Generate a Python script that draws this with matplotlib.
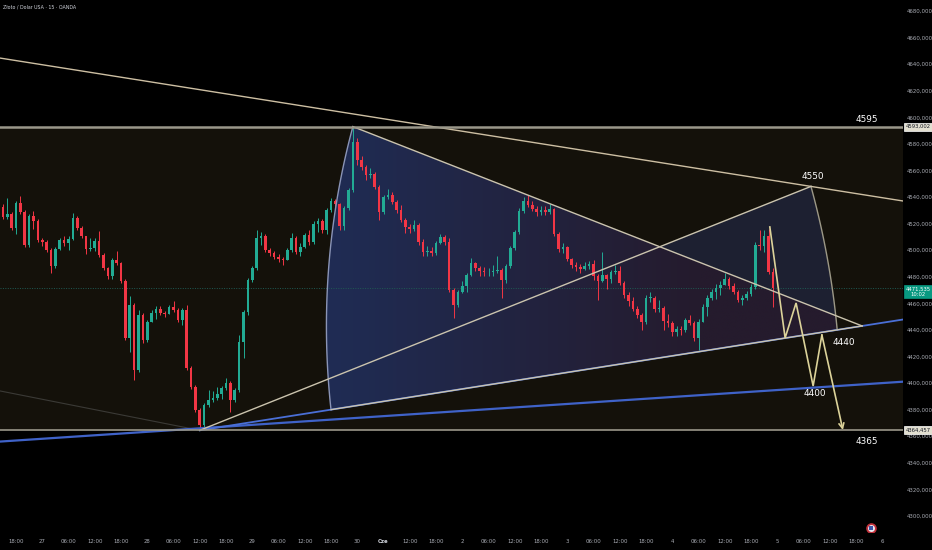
import numpy as np
import matplotlib
matplotlib.use('Agg')
import matplotlib.pyplot as plt
from matplotlib.patches import Polygon
from matplotlib import font_manager as fm

# ---------------- data (hourly candles, x = hours since 26 May 18:00) ----------------
first_open = 4532.5
closes = [
4525.0, 4527.3, 4516.7, 4535.5, 4528.8, 4503.9, 4525.8, 4522.0, 4507.7, 4506.2,
4500.2, 4488.1, 4500.9, 4507.7, 4505.4, 4508.4, 4524.2, 4516.7, 4510.7, 4500.9,
4501.7, 4506.9, 4496.4, 4486.6, 4480.6, 4492.6, 4490.4, 4476.8, 4434.0, 4458.8,
4409.9, 4451.3, 4432.5, 4446.0, 4452.8, 4455.8, 4452.8, 4452.0, 4457.3, 4455.0,
4447.5, 4455.0, 4411.4, 4397.1, 4379.8, 4368.5, 4383.5, 4387.3, 4388.8, 4391.8,
4396.3, 4400.1, 4387.3, 4394.8, 4430.9, 4453.5, 4477.6, 4486.6, 4509.2, 4510.7,
4500.2, 4497.9, 4494.9, 4493.4, 4492.6, 4500.2, 4509.2, 4498.7, 4502.4, 4511.5,
4506.2, 4519.7, 4522.0, 4515.2, 4530.3, 4537.1, 4534.8, 4518.2, 4531.8, 4545.3,
4581.4, 4567.9, 4562.6, 4556.6, 4557.4, 4547.6, 4528.8, 4540.1, 4541.6, 4536.3,
4530.3, 4522.7, 4517.5, 4516.0, 4519.0, 4506.2, 4498.7, 4499.4, 4497.9, 4505.4,
4509.9, 4506.2, 4470.1, 4458.8, 4468.6, 4473.1, 4481.4, 4490.4, 4486.6, 4484.4,
4483.6, 4483.6, 4484.4, 4485.1, 4477.6, 4488.1, 4501.7, 4513.7, 4529.5, 4537.1,
4534.0, 4531.0, 4528.8, 4530.3, 4528.8, 4531.0, 4512.2, 4500.9, 4502.4, 4493.4,
4488.9, 4487.4, 4485.9, 4488.1, 4489.6, 4480.6, 4476.8, 4481.4, 4478.4, 4483.6,
4484.4, 4475.3, 4466.3, 4461.8, 4455.8, 4451.3, 4446.0, 4464.1, 4464.1, 4455.8,
4456.5, 4446.7, 4445.2, 4438.5, 4440.7, 4440.0, 4447.5, 4445.2, 4434.0, 4446.0,
4457.3, 4464.1, 4468.6, 4471.6, 4473.8, 4478.4, 4473.1, 4468.6, 4462.5, 4464.1,
4467.1, 4472.3, 4503.9, 4503.2, 4510.7, 4483.6, 4471.535]
highs = [
4534.8, 4539.3, 4528.8, 4537.1, 4540.8, 4530.3, 4527.3, 4529.5, 4523.5, 4509.2,
4507.7, 4501.7, 4502.4, 4509.2, 4510.7, 4510.7, 4528.0, 4525.8, 4518.2, 4510.7,
4509.2, 4509.2, 4514.5, 4497.9, 4487.4, 4494.1, 4499.4, 4491.1, 4478.4, 4465.6,
4460.3, 4455.0, 4452.8, 4447.5, 4455.0, 4458.0, 4458.0, 4454.3, 4458.8, 4461.8,
4456.5, 4456.5, 4458.8, 4412.9, 4398.6, 4381.3, 4385.0, 4394.8, 4394.1, 4397.1,
4397.8, 4403.9, 4401.6, 4396.3, 4436.2, 4455.0, 4479.1, 4488.1, 4515.2, 4513.7,
4512.2, 4501.7, 4499.4, 4497.2, 4494.9, 4501.7, 4513.0, 4510.7, 4505.4, 4513.0,
4515.2, 4522.0, 4524.2, 4523.5, 4531.8, 4539.3, 4538.6, 4535.5, 4533.3, 4546.8,
4593.0, 4584.5, 4570.9, 4564.1, 4561.9, 4558.9, 4549.1, 4541.6, 4546.1, 4543.8,
4537.8, 4534.0, 4524.2, 4519.7, 4522.7, 4520.5, 4508.4, 4503.2, 4502.4, 4506.9,
4512.2, 4511.5, 4509.2, 4471.6, 4470.1, 4476.8, 4482.9, 4494.1, 4491.1, 4488.1,
4487.4, 4486.6, 4488.9, 4495.7, 4486.6, 4489.6, 4503.2, 4515.2, 4531.8, 4540.1,
4541.6, 4537.1, 4533.3, 4533.3, 4533.3, 4534.8, 4531.8, 4513.7, 4505.4, 4503.2,
4494.1, 4491.1, 4489.6, 4491.1, 4491.9, 4492.6, 4482.1, 4498.7, 4482.1, 4485.1,
4488.9, 4488.1, 4476.8, 4468.6, 4464.8, 4458.0, 4452.8, 4466.3, 4468.6, 4465.6,
4462.5, 4458.0, 4452.0, 4446.7, 4443.0, 4443.0, 4449.0, 4451.3, 4446.7, 4448.2,
4459.5, 4466.3, 4470.8, 4474.6, 4476.8, 4482.9, 4479.9, 4475.3, 4470.1, 4466.3,
4469.3, 4474.6, 4506.2, 4515.2, 4515.2, 4516.0, 4486.6]
lows = [
4523.5, 4523.5, 4515.2, 4512.2, 4527.3, 4502.4, 4502.4, 4516.0, 4506.2, 4503.2,
4498.7, 4482.9, 4486.6, 4500.2, 4503.2, 4500.2, 4507.7, 4515.2, 4509.2, 4497.2,
4499.4, 4499.4, 4494.9, 4485.1, 4478.4, 4478.4, 4488.9, 4475.3, 4432.5, 4423.4,
4402.3, 4408.4, 4430.2, 4430.9, 4446.0, 4448.2, 4451.3, 4449.8, 4452.0, 4453.5,
4446.0, 4443.7, 4409.9, 4395.6, 4378.3, 4364.457, 4367.0, 4382.0, 4385.8, 4387.3,
4388.1, 4394.8, 4378.3, 4385.8, 4393.3, 4418.9, 4451.3, 4476.1, 4485.1, 4503.9,
4498.7, 4495.7, 4493.4, 4491.1, 4488.9, 4492.6, 4498.7, 4497.2, 4495.7, 4501.7,
4503.9, 4504.7, 4513.7, 4513.0, 4512.2, 4528.8, 4532.5, 4515.2, 4515.2, 4530.3,
4543.8, 4564.1, 4560.4, 4552.8, 4554.4, 4546.1, 4522.7, 4527.3, 4538.6, 4534.8,
4528.0, 4521.2, 4513.0, 4513.0, 4514.5, 4503.9, 4495.7, 4495.7, 4495.7, 4496.4,
4504.7, 4503.9, 4468.6, 4449.0, 4457.3, 4467.8, 4468.6, 4480.6, 4484.4, 4480.6,
4480.6, 4480.6, 4480.6, 4482.9, 4464.1, 4475.3, 4486.6, 4500.2, 4512.2, 4528.0,
4532.5, 4529.5, 4525.8, 4526.5, 4526.5, 4527.3, 4510.7, 4498.7, 4497.9, 4491.9,
4486.6, 4484.4, 4482.9, 4485.1, 4485.9, 4477.6, 4462.5, 4476.1, 4470.8, 4475.3,
4482.1, 4473.8, 4464.1, 4458.0, 4454.3, 4449.0, 4440.0, 4444.5, 4461.0, 4453.5,
4453.5, 4440.0, 4442.2, 4435.5, 4435.5, 4436.2, 4438.5, 4443.7, 4431.7, 4424.9,
4446.0, 4450.5, 4462.5, 4463.3, 4466.3, 4475.3, 4470.8, 4467.1, 4461.0, 4458.8,
4462.5, 4465.6, 4470.8, 4500.2, 4498.7, 4482.1, 4457.3]
first_hour = -3

tick_labels = ["18:00", "27", "06:00", "12:00", "18:00", "28", "06:00", "12:00", "18:00",
               "29", "06:00", "12:00", "18:00", "30", "Cze", "12:00", "18:00", "2",
               "06:00", "12:00", "18:00", "3", "06:00", "12:00", "18:00", "4",
               "06:00", "12:00", "18:00", "5", "06:00", "12:00", "18:00", "6"]
tick_step_hours = 6
price_ticks = list(range(4300, 4681, 20))

# drawing anchors (hour, price)
box_top, box_bottom = 4593.002, 4364.457
last_price = 4471.535
peak = (77, 4593.002)
low = (42, 4364.457)
apex = (193.4, 4443.0)
pt4550 = (181.7, 4548.0)
long_line_start = (-3.66, 4644.6)
blue_a, blue_b = (-3.66, 4356.0), (202.5, 4401.0)
faint_start = (-3.66, 4394.1)
left_arc_mid = (71.1, 4466.3)
left_arc_end_h = 72.0
right_arc_mid = (186.1, 4481.4)
right_arc_end_h = 187.7
zigzag_h = [172.3, 175.8, 178.3, 182.2, 184.2, 189.0]
zigzag_p = [4517.5, 4434.0, 4460.3, 4397.8, 4436.2, 4364.7]
level_texts = [("4595", 194.5, 4598.7), ("4550", 182.2, 4555.1), ("4440", 189.3, 4430.2),
               ("4400", 182.6, 4391.8), ("4365", 194.5, 4356.4)]
title = "Złoto / Dolar USA · 15 · OANDA"

# ---------------- fonts ----------------
names = {f.name for f in fm.fontManager.ttflist}
if 'Liberation Sans Narrow' in names:
    fam, k = 'Liberation Sans Narrow', 1.0
else:
    fam, k = 'DejaVu Sans', 0.78
plt.rcParams['font.family'] = [fam, 'DejaVu Sans']

BG = '#000000'
BOXBG = '#14110a'
UP, DOWN = '#22ab94', '#f23645'
BEIGE = '#cbc4ae'
AXTXT = '#a9acb4'

fig = plt.figure(figsize=(9.32, 5.5), dpi=100, facecolor=BG)
ax = fig.add_axes([0, 18 / 550, 903 / 932, 532 / 550])
ax.set_facecolor(BG)
for s in ax.spines.values():
    s.set_visible(False)
ax.set_xlim(-3.657, 202.74)
ax.set_ylim(4287.95, 4688.28)

# rectangle zone
ax.axhspan(box_bottom, box_top, color=BOXBG, zorder=0, lw=0)
ax.axhline(box_top, color='#9a978a', lw=1.8, zorder=5)
ax.axhline(box_bottom, color='#9a978a', lw=1.2, zorder=5)

# helpers in display space
def D(p):
    return ax.transData.transform(np.atleast_2d(p))
def Dinv(p):
    return ax.transData.inverted().transform(np.atleast_2d(p))

def line_at(p0, p1, h):
    return p0[1] + (p1[1] - p0[1]) / (p1[0] - p0[0]) * (h - p0[0])

def intersect(a0, a1, b0, b1):
    a0, a1, b0, b1 = map(np.asarray, (a0, a1, b0, b1))
    da, db = a1 - a0, b1 - b0
    t = np.cross(b0 - a0, db) / np.cross(da, db)
    return a0 + t * da

def arc_through(p0, pm, p1, n=90):
    (x1, y1), (x2, y2), (x3, y3) = p0, pm, p1
    d = 2 * (x1 * (y2 - y3) + x2 * (y3 - y1) + x3 * (y1 - y2))
    ux = ((x1**2 + y1**2) * (y2 - y3) + (x2**2 + y2**2) * (y3 - y1) + (x3**2 + y3**2) * (y1 - y2)) / d
    uy = ((x1**2 + y1**2) * (x3 - x2) + (x2**2 + y2**2) * (x1 - x3) + (x3**2 + y3**2) * (x2 - x1)) / d
    r = np.hypot(x1 - ux, y1 - uy)
    a0 = np.arctan2(y1 - uy, x1 - ux)
    am = np.arctan2(y2 - uy, x2 - ux)
    a1 = np.arctan2(y3 - uy, x3 - ux)
    dm = (am - a0) % (2 * np.pi)
    d1 = (a1 - a0) % (2 * np.pi)
    if dm <= d1:
        ang = a0 + np.linspace(0, d1, n)
    else:
        ang = a0 - np.linspace(0, 2 * np.pi - d1, n)
    return np.column_stack([ux + r * np.cos(ang), uy + r * np.sin(ang)])

left_end = (left_arc_end_h, line_at(low, apex, left_arc_end_h))
right_end = (right_arc_end_h, line_at(low, apex, right_arc_end_h))
cross = intersect(peak, apex, low, pt4550)

larc = arc_through(D(left_end)[0], D(left_arc_mid)[0], D(peak)[0])
rarc = arc_through(D(pt4550)[0], D(right_arc_mid)[0], D(right_end)[0])

region_disp = np.vstack([D(peak), D(cross), D(pt4550), rarc, D(right_end), D(left_end), larc])
region = Polygon(Dinv(region_disp), closed=True, transform=ax.transData,
                 fill=False, edgecolor='none')
ax.add_patch(region)

# horizontal gradient fill
g_h = np.linspace(68, 195, 300)
c0 = np.array([31, 44, 84]) / 255.0
c1 = np.array([37, 27, 45]) / 255.0
t = np.clip((g_h - 71.8) / (156 - 71.8), 0, 1)[:, None]
cols = c0 * (1 - t) + c1 * t
img = np.repeat(cols[None, :, :], 2, axis=0)
im = ax.imshow(img, extent=(68, 195, 4360, 4600), aspect='auto', origin='lower',
               zorder=1, interpolation='bilinear')
im.set_clip_path(region)

# overlay above the descending line
dp0, dp1 = D(peak)[0], D(apex)[0]
def above_desc(pt):
    yl = dp0[1] + (dp1[1] - dp0[1]) / (dp1[0] - dp0[0]) * (pt[0] - dp0[0])
    return pt[1] >= yl
sel = [p for p in rarc if above_desc(p)]
over_disp = np.vstack([D(cross), D(pt4550), np.array(sel)])
ax.add_patch(Polygon(Dinv(over_disp), closed=True, transform=ax.transData,
                     facecolor='#1d2031', edgecolor='none', zorder=1.5))

# arcs outlines
la = Dinv(larc)
ra = Dinv(rarc)
ax.plot(la[:, 0], la[:, 1], color='#8a94b6', lw=1.0, zorder=4)
ax.plot(ra[:, 0], ra[:, 1], color='#9c9886', lw=1.0, zorder=4)

# current price dotted line
ax.axhline(last_price, color='#1f5a53', lw=0.7, ls=(0, (1, 1.5)), zorder=2)

# ---------------- candles ----------------
c = np.array(closes)
o = np.array([first_open] + closes[:-1])
hi = np.maximum(np.array(highs), np.maximum(o, c))
lo = np.minimum(np.array(lows), np.minimum(o, c))
hrs = np.arange(first_hour, first_hour + len(c))
colors = np.where(c >= o, UP, DOWN)
ax.vlines(hrs, lo, hi, colors=colors, lw=0.7, zorder=3)
ax.bar(hrs, np.maximum(np.abs(c - o), 0.35), bottom=np.minimum(o, c), width=0.62,
       color=colors, lw=0, zorder=3)

# ---------------- drawings ----------------
ax.axline(long_line_start, pt4550, color='#cdbfa3', lw=1.0, zorder=4)
ax.plot([faint_start[0], low[0]], [faint_start[1], low[1]], color='#3b3a36', lw=0.8, zorder=2)
ax.axline(blue_a, blue_b, color='#3f62c8', lw=1.6, zorder=4)
right_h = 202.74
ax.plot([low[0], right_h], [low[1], line_at(low, apex, right_h)], color='#4a6fd6', lw=1.3, zorder=4)
ax.plot([left_end[0], apex[0]], [left_end[1], apex[1]], color=BEIGE, lw=1.0, zorder=4.2)
ax.plot([peak[0], apex[0]], [peak[1], apex[1]], color=BEIGE, lw=1.0, zorder=4)
ax.plot([low[0], pt4550[0]], [low[1], pt4550[1]], color=BEIGE, lw=1.0, zorder=4)

zz = '#dcd39a'
ax.plot(zigzag_h[:-1], zigzag_p[:-1], color=zz, lw=1.2, zorder=5, solid_joinstyle='miter')
ax.annotate('', xy=(zigzag_h[-1], zigzag_p[-1]), xytext=(zigzag_h[-2], zigzag_p[-2]),
            arrowprops=dict(arrowstyle='->', color=zz, lw=1.2, mutation_scale=9,
                            shrinkA=0, shrinkB=0), zorder=5)

for txt, hx, py in level_texts:
    ax.text(hx, py, txt, color='white', fontsize=8.2 * k, ha='center', va='center', zorder=6)

# flag icon
ax.scatter([195.4], [4291.0], s=40, facecolor='#e9e9f2', edgecolor='#c0303a', lw=1.3, zorder=6)
ax.scatter([195.4], [4291.0], s=6, marker='s', facecolor='#3a55a8', lw=0, zorder=7)

# ---------------- axes ----------------
ax.yaxis.tick_right()
ax.set_yticks(price_ticks)
ax.set_yticklabels([f"{v},000" for v in price_ticks])
ax.tick_params(axis='y', length=0, pad=3, labelsize=5.0 * k, labelcolor=AXTXT)
xt = [i * tick_step_hours for i in range(len(tick_labels))]
ax.set_xticks(xt)
ax.set_xticklabels(tick_labels)
ax.tick_params(axis='x', length=0, pad=5, labelsize=5.0 * k, labelcolor=AXTXT)
for lab in ax.get_xticklabels():
    if lab.get_text() == 'Cze':
        lab.set_fontweight('bold')
        lab.set_color('#d1d4dc')

ytr = ax.get_yaxis_transform()
ax.text(1.0165, box_top, "4593,002", transform=ytr, ha='center', va='center',
        fontsize=4.8 * k, color='#131722', clip_on=False, zorder=8,
        bbox=dict(boxstyle='square,pad=0.3', fc='#e2dfd0', ec='#ffffff', lw=0.5))
ax.text(1.0165, box_bottom, "4364,457", transform=ytr, ha='center', va='center',
        fontsize=4.8 * k, color='#131722', clip_on=False, zorder=8,
        bbox=dict(boxstyle='square,pad=0.3', fc='#e2dfd0', ec='#ffffff', lw=0.5))
ax.text(1.0165, last_price - 2.6, "4471,535\n10:02", transform=ytr, ha='center', va='center',
        fontsize=4.8 * k, color='white', clip_on=False, zorder=8, linespacing=1.1,
        bbox=dict(boxstyle='square,pad=0.3', fc='#089981', ec='#089981', lw=0.5))

fig.text(3 / 932, 1 - 7 / 550, title, fontsize=4.4 * k, color='#d1d4dc', va='center', ha='left')

fig.savefig('out.png', dpi=100, facecolor=BG)
